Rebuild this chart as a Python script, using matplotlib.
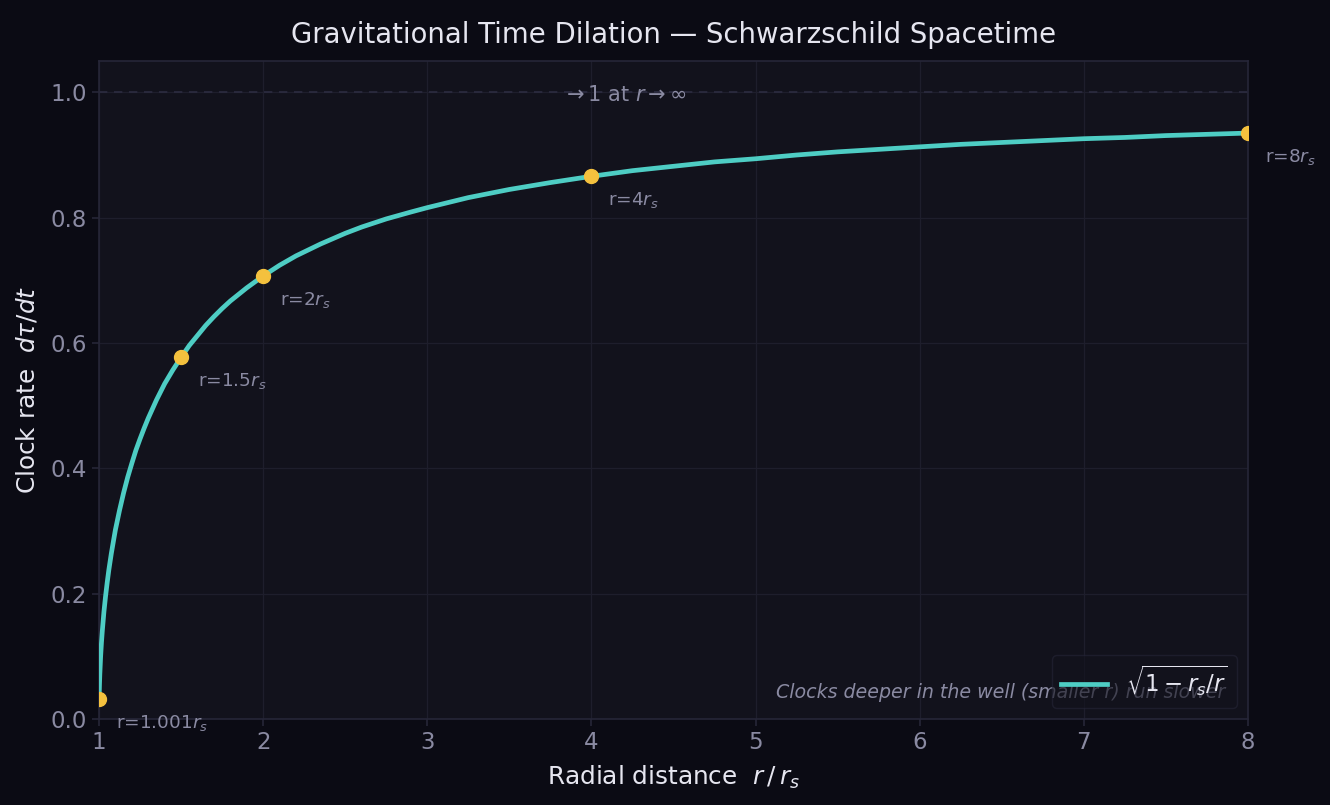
import matplotlib
matplotlib.use("Agg")
import matplotlib.pyplot as plt

# clock rate, r in units of r_s
radius = [1.001, 1.002, 1.003, 1.005, 1.01, 1.015, 1.02, 1.03, 1.04, 1.05, 1.06,
          1.075, 1.09, 1.1, 1.125, 1.15, 1.175, 1.2, 1.225, 1.25, 1.275, 1.3,
          1.35, 1.4, 1.45, 1.5, 1.55, 1.6, 1.65, 1.7, 1.75, 1.8, 1.9, 2.0, 2.1,
          2.2, 2.35, 2.5, 2.6, 2.75, 2.9, 3.0, 3.25, 3.5, 3.75, 4.0, 4.25, 4.5,
          4.75, 5.0, 5.25, 5.5, 6.0, 6.25, 6.5, 7.0, 7.25, 7.5, 8.0]
rate = [0.032, 0.045, 0.055, 0.071, 0.100, 0.122, 0.140, 0.171, 0.196, 0.218, 0.238,
        0.264, 0.287, 0.302, 0.333, 0.361, 0.386, 0.408, 0.429, 0.447, 0.464, 0.480,
        0.509, 0.535, 0.557, 0.577, 0.596, 0.612, 0.628, 0.642, 0.655, 0.667, 0.688,
        0.707, 0.724, 0.739, 0.758, 0.775, 0.785, 0.798, 0.809, 0.816, 0.832, 0.845,
        0.856, 0.866, 0.875, 0.882, 0.889, 0.894, 0.900, 0.905, 0.913, 0.917, 0.920,
        0.926, 0.928, 0.931, 0.935]

mark_r = [1.001, 1.5, 2.0, 4.0, 8.0]
mark_rate = [0.032, 0.577, 0.707, 0.866, 0.935]
mark_labels = ["r=1.001$r_s$", "r=1.5$r_s$", "r=2$r_s$", "r=4$r_s$", "r=8$r_s$"]

bg = "#0b0b14"
panel = "#12121c"
muted = "#8a8aa2"
edge = "#262638"
light = "#e6e6f0"

fig = plt.figure(figsize=(13.3, 8.05), dpi=100, facecolor=bg)
ax = fig.add_axes([99/1330, 1 - 719/805, 1149/1330, 658/805])
ax.set_facecolor(panel)

ax.axhline(1.0, color="#2c2c40", lw=1.2, ls=(0, (5, 4)), zorder=1)
ax.plot(radius, rate, color="#4ecdc4", lw=3.4, label=r"$\sqrt{1-r_s/r}$", zorder=3)
ax.scatter(mark_r, mark_rate, s=100, color="#f4c13e", zorder=4)
for xr, yr, lab in zip(mark_r, mark_rate, mark_labels):
    ax.annotate(lab, xy=(xr, yr), xytext=(12, -10), textcoords="offset points",
                va="top", ha="left", fontsize=13.3, color=muted,
                annotation_clip=False)

ax.text(4.2, 0.995, r"$\rightarrow 1$ at $r \rightarrow \infty$", ha="center",
        va="center", fontsize=15, color=muted)
ax.text(0.98, 0.04, "Clocks deeper in the well (smaller r) run slower",
        transform=ax.transAxes, ha="right", va="center", fontsize=13.7,
        style="italic", color=muted)

ax.set_xlim(1, 8)
ax.set_ylim(0, 1.05)
ax.grid(True, color="#1e1e2c", lw=0.9)
ax.set_axisbelow(True)
for sp in ax.spines.values():
    sp.set_color(edge)
    sp.set_linewidth(1.2)
ax.tick_params(colors=muted, labelsize=16.5, color=edge, width=1.2, length=5)

ax.set_xlabel(r"Radial distance  $r\,/\,r_s$", fontsize=17.8, color=light, labelpad=7)
ax.set_ylabel(r"Clock rate  $d\tau/dt$", fontsize=17.8, color=light, labelpad=8)
ax.set_title("Gravitational Time Dilation — Schwarzschild Spacetime",
             fontsize=19.8, color=light, pad=13)

leg = ax.legend(loc="lower right", fontsize=16.5, facecolor=panel, edgecolor=edge,
                framealpha=0.6, labelcolor=light, borderaxespad=0.5)

fig.savefig("out.png", dpi=100, facecolor=bg)
